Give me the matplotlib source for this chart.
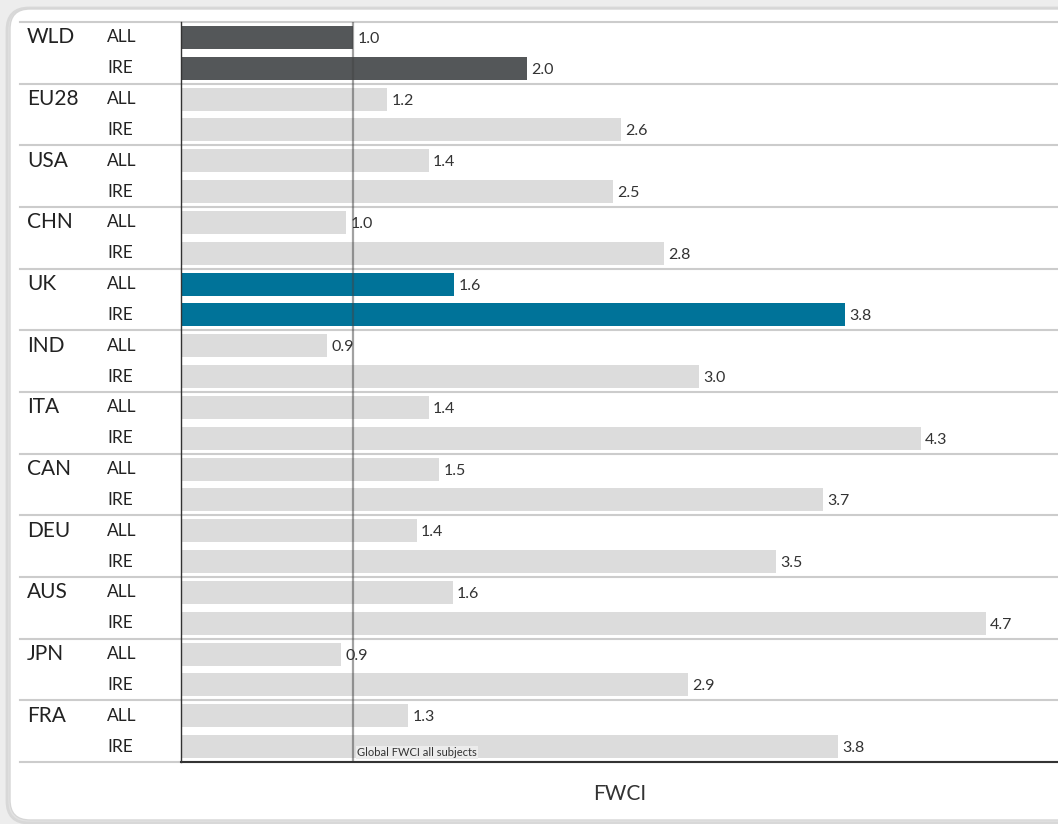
import matplotlib.pyplot as plt
from matplotlib.patches import FancyBboxPatch
import numpy as np

# Data (bar lengths estimated, labels as printed)
countries = ['WLD', 'EU28', 'USA', 'CHN', 'UK', 'IND', 'ITA', 'CAN', 'DEU', 'AUS', 'JPN', 'FRA']
fwci_all = [1.00, 1.20, 1.44, 0.96, 1.59, 0.85, 1.44, 1.50, 1.37, 1.58, 0.93, 1.32]
fwci_ire = [2.01, 2.56, 2.51, 2.81, 3.86, 3.01, 4.30, 3.73, 3.46, 4.68, 2.95, 3.82]
labels_all = ['1.0', '1.2', '1.4', '1.0', '1.6', '0.9', '1.4', '1.5', '1.4', '1.6', '0.9', '1.3']
labels_ire = ['2.0', '2.6', '2.5', '2.8', '3.8', '3.0', '4.3', '3.7', '3.5', '4.7', '2.9', '3.8']
sub_labels = ['ALL', 'IRE']
global_fwci = 1.0

plt.rcParams['font.family'] = ['Lato', 'DejaVu Sans']

W, H = 1058, 824
fig = plt.figure(figsize=(W / 100, H / 100), dpi=100, facecolor='#ededed')

# rounded white panel behind the chart (drawn under the axes)
for k, c in enumerate(['#e2e2e2', '#d8d8d8']):
    fig.patches.append(FancyBboxPatch((8 - k, 2 - k), W + 40, H - 11 + 2 * k,
                                      boxstyle='round,pad=0,rounding_size=22',
                                      transform=None, facecolor='none',
                                      edgecolor=c, lw=2, zorder=-2))
fig.patches.append(FancyBboxPatch((10, 4), W + 40, H - 13,
                                  boxstyle='round,pad=0,rounding_size=20',
                                  transform=None, facecolor='white',
                                  edgecolor='#d6d6d6', lw=1, zorder=-1))

ax = fig.add_axes([181 / W, 62 / H, 877 / W, 740 / H])
ax.set_facecolor('none')

n = len(countries)
x_max = 877 / 172.0

for i, name in enumerate(countries):
    if name == 'WLD':
        col = '#545759'
    elif name == 'UK':
        col = '#007399'
    else:
        col = '#dcdcdc'
    ys = [2 * i, 2 * i + 1]
    vals = [fwci_all[i], fwci_ire[i]]
    labs = [labels_all[i], labels_ire[i]]
    ax.barh(ys, vals, height=0.75, color=col, zorder=2)
    for y, v, lab in zip(ys, vals, labs):
        ax.text(v + 0.025, y + 0.05, lab, va='center', ha='left',
                fontsize=11.5, color='#333333', zorder=4)
    # country and sub labels in the left margin
    ax.text(-154 / 172.0, 2 * i, name, va='center', ha='left',
            fontsize=15, color='#222222', clip_on=False)
    for y, s in zip(ys, sub_labels):
        ax.text(-74 / 172.0, y, s, va='center', ha='left',
                fontsize=12.5, color='#222222', clip_on=False)

# group separators
trans = ax.get_yaxis_transform()
for g in range(n + 1):
    yb = 2 * g - 0.5
    ax.plot([-161 / 877, 1.0], [yb, yb], transform=trans, color='#cccccc',
            lw=1.5, clip_on=False, zorder=1)

# global reference line
ax.axvline(global_fwci, color='#444444', alpha=0.5, lw=1.6, zorder=3)
ax.text(global_fwci + 0.025, 2 * n - 1 + 0.2, 'Global FWCI all subjects',
        fontsize=8, color='#333333', va='center', ha='left', zorder=4,
        bbox=dict(boxstyle='square,pad=0.1', facecolor='#ececec', edgecolor='none'))

ax.set_xlim(0, x_max)
ax.set_ylim(2 * n - 0.5, -0.5)
ax.set_xticks([])
ax.set_yticks([])
for s in ['top', 'right']:
    ax.spines[s].set_visible(False)
ax.spines['left'].set_color('#333333')
ax.spines['left'].set_linewidth(1.0)
ax.spines['bottom'].set_color('#333333')
ax.spines['bottom'].set_linewidth(1.5)
ax.spines['bottom'].set_zorder(5)

ax.set_xlabel('FWCI', fontsize=15, color='#333333', labelpad=16)

fig.savefig('out.png', dpi=100, facecolor=fig.get_facecolor())
